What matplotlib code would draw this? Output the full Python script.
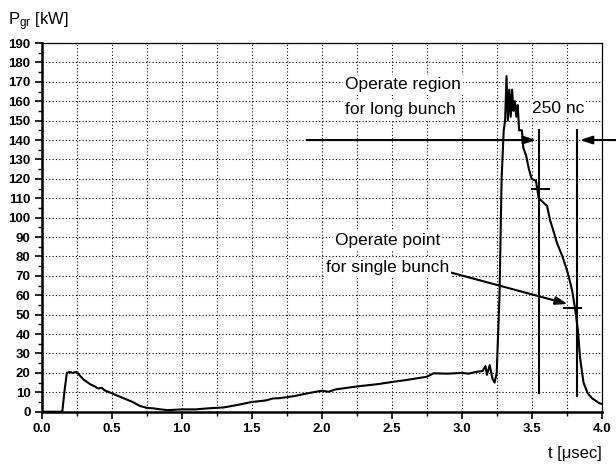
#!/usr/bin/env python

# Forward power of the gun vs time, with operating region marks

import numpy as np
import matplotlib
matplotlib.use('Agg')
import matplotlib.pyplot as plt
from matplotlib.ticker import MultipleLocator

plt.rcParams['font.family'] = ['Liberation Sans', 'DejaVu Sans']

# Pulse shape: t [usec], P [kW]
t_us = [0.0, 0.147, 0.165, 0.18, 0.2, 0.22, 0.25, 0.28, 0.3, 0.33, 0.35,
        0.38, 0.4, 0.43, 0.45, 0.5, 0.55, 0.6, 0.65, 0.7, 0.75, 0.8, 0.85,
        0.9, 1.0, 1.1, 1.2, 1.3, 1.4, 1.5, 1.6, 1.65, 1.7, 1.8, 1.9, 2.0,
        2.05, 2.1, 2.25, 2.4, 2.5, 2.6, 2.75, 2.8, 2.9, 3.0, 3.05, 3.1,
        3.15, 3.17, 3.18, 3.2, 3.22, 3.235, 3.25, 3.27, 3.285, 3.3, 3.31,
        3.32, 3.33, 3.34, 3.35, 3.36, 3.37, 3.38, 3.39, 3.4, 3.41, 3.43,
        3.44, 3.46, 3.48, 3.5, 3.53, 3.55, 3.58, 3.61, 3.63, 3.66, 3.68,
        3.72, 3.76, 3.79, 3.81, 3.83, 3.845, 3.87, 3.9, 3.93, 3.95, 3.98,
        4.0]
p_kw = [0.0, 0.0, 12.0, 20.0, 20.5, 20.0, 20.5, 18.0, 16.5, 15.0, 14.0,
        13.0, 12.0, 12.3, 11.0, 9.5, 8.0, 6.5, 5.0, 3.0, 2.0, 1.7, 1.2,
        0.8, 1.2, 1.2, 1.8, 2.2, 3.5, 5.0, 5.8, 6.8, 7.0, 8.0, 9.5, 10.8,
        10.3, 11.5, 13.0, 14.2, 15.3, 16.3, 18.0, 19.8, 19.6, 20.0, 19.6,
        20.5, 21.0, 23.5, 19.0, 24.0, 17.0, 15.0, 20.0, 60.0, 120.0, 145.0,
        150.0, 173.0, 150.0, 166.0, 152.0, 166.0, 155.0, 160.0, 152.0,
        158.0, 145.0, 145.0, 136.0, 132.0, 125.0, 120.0, 119.0, 110.0,
        108.0, 106.0, 99.0, 92.0, 87.0, 80.0, 71.0, 62.0, 53.0, 42.0,
        28.0, 15.0, 9.5, 7.0, 6.0, 4.5, 4.0]

fig = plt.figure(figsize=(6.16, 4.65), dpi=100)
ax = fig.add_axes([0.0677, 0.1146, 0.9091, 0.7929])

ax.plot(t_us, p_kw, color='black', lw=1.5, zorder=3)

ax.set_xlim(0, 4.0)
ax.set_ylim(0, 190)
ax.xaxis.set_minor_locator(MultipleLocator(0.25))
ax.yaxis.set_major_locator(MultipleLocator(10))
ax.yaxis.set_minor_locator(MultipleLocator(5))
ax.set_xticks(np.arange(0, 4.01, 0.5))
ax.set_xticklabels(['%.1f' % v for v in np.arange(0, 4.01, 0.5)])

ax.tick_params(axis='both', which='major', direction='out', length=5,
               width=1.2, labelsize=9.5, pad=3)
ax.tick_params(axis='both', which='minor', direction='out', length=3,
               width=1.0)
for lab in ax.get_xticklabels() + ax.get_yticklabels():
    lab.set_fontweight('bold')

# dotted grid, every 10 kW and every 0.25 usec
ax.grid(True, which='major', axis='y', color='black', lw=0.8,
        linestyle=(0, (1, 2)))
ax.grid(True, which='both', axis='x', color='black', lw=0.8,
        linestyle=(0, (1, 2)))
ax.set_axisbelow(True)

ax.spines['left'].set_linewidth(1.8)
ax.spines['bottom'].set_linewidth(1.8)
ax.spines['top'].set_linewidth(0.9)
ax.spines['right'].set_linewidth(0.9)

# operating region marks
arrow = dict(arrowstyle='-|>,head_length=0.6,head_width=0.2',
             color='black', lw=1.5, mutation_scale=12, shrinkA=0, shrinkB=0)
ax.annotate('', xy=(3.53, 140), xytext=(1.893, 140), arrowprops=arrow,
            zorder=4)
ax.annotate('', xy=(3.845, 140), xytext=(4.11, 140), arrowprops=arrow,
            annotation_clip=False, zorder=4)
ax.plot([3.55, 3.55], [9.5, 145], color='black', lw=1.5, zorder=4)
ax.plot([3.82, 3.82], [8, 145], color='black', lw=1.5, zorder=4)
ax.plot([3.50, 3.62], [114.6, 114.6], color='black', lw=1.5, zorder=4)
ax.plot([3.73, 3.85], [53.5, 53.5], color='black', lw=1.5, zorder=4)
ax.annotate('', xy=(3.757, 55.5), xytext=(2.857, 73), arrowprops=arrow,
            zorder=4)

box = dict(facecolor='white', edgecolor='none', pad=1.5)
ax.text(2.167, 168.4, 'Operate region', fontsize=12.5, ha='left',
        va='center', bbox=box, zorder=5)
ax.text(2.167, 155.5, 'for long bunch', fontsize=12.5, ha='left',
        va='center', bbox=box, zorder=5)
ax.text(3.5, 156.4, '250 nc', fontsize=12.5, ha='left', va='center',
        bbox=box, zorder=5)
ax.text(2.47, 88, 'Operate point', fontsize=12.5, ha='center',
        va='center', bbox=box, zorder=5)
ax.text(2.47, 74.5, 'for single bunch', fontsize=12.5, ha='center',
        va='center', bbox=box, zorder=5)

# axis captions
fig.text(0.013, 0.945, r'$\mathregular{P_{gr}}$ [kW]', fontsize=12,
         ha='left', va='baseline')
fig.text(0.977, 0.015, 't [μsec]', fontsize=12, ha='right',
         va='baseline')

fig.savefig('out.png', dpi=100)
